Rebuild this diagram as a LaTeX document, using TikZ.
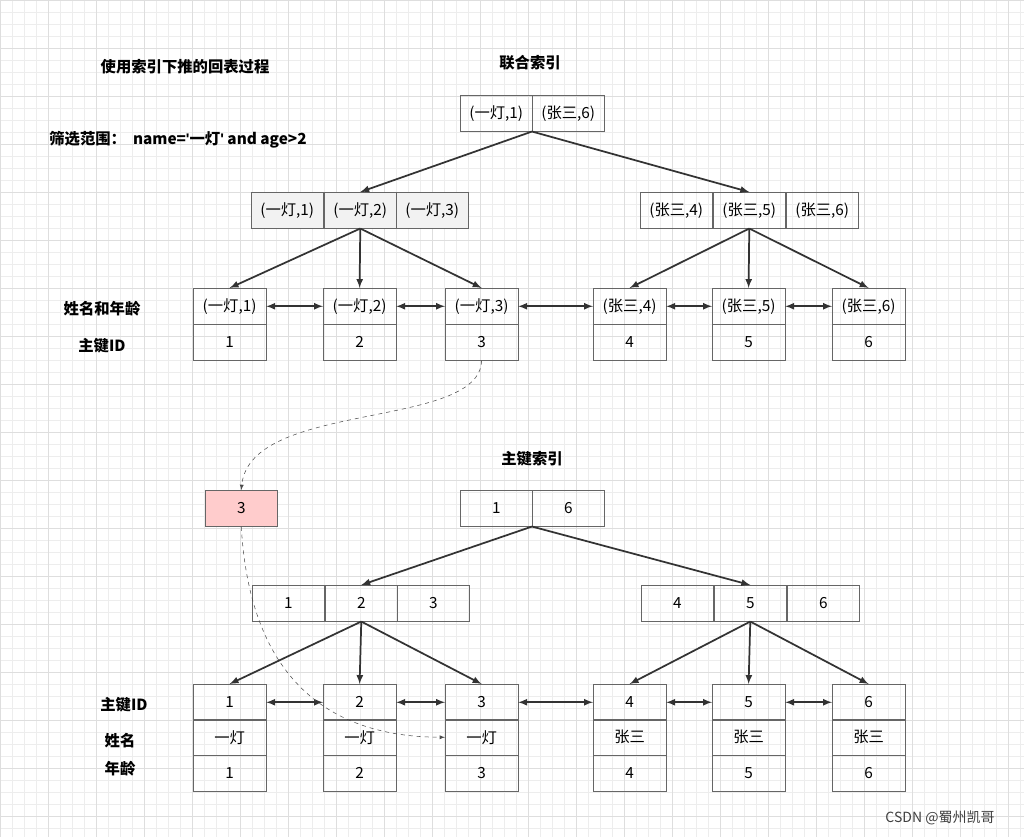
\documentclass[tikz,border=0pt]{standalone}
\usepackage{fontspec}
\setmainfont{Noto Sans CJK SC}
\newfontfamily\qf{Liberation Sans}
\begin{document}
\begin{tikzpicture}[x=0.75pt,y=-0.75pt,
  cell/.style={draw=black!60,minimum height=27pt,inner sep=0pt,font=\fontsize{11.5}{13}\selectfont,anchor=north west},
  lbl/.style={font=\fontsize{11.5}{13}\selectfont\bfseries},
  arr/.style={-latex,line width=1.3pt,black!80},
  darr/.style={latex-latex,line width=1.3pt,black!80},
  dsh/.style={-latex,dashed,black!70}]
\useasboundingbox (0,0) rectangle (1024,837);
\fill[white] (0,0) rectangle (1024,837);
\foreach \i in {0,12,...,1030} \draw[black!7] (\i,0) -- (\i,837);
\foreach \i in {0,12,...,840} \draw[black!7] (0,\i) -- (1024,\i);
\foreach \i in {0,48,...,1030} \draw[black!13] (\i,0) -- (\i,837);
\foreach \i in {0,48,...,840} \draw[black!13] (0,\i) -- (1024,\i);
% top titles
\node[lbl] (title) at (185,67) {使用索引下推的回表过程};
\node[lbl] (filt) at (178,140) {筛选范围：\ \ name={\qf\char39}一灯{\qf\char39} and age>2};
\node[lbl] (t1) at (530,63) {联合索引};
% root
\node[cell,minimum width=54pt] (r1) at (460,95) {(一灯,1)};
\node[cell,minimum width=54pt] (r2) at (532,95) {(张三,6)};
% mid
\foreach \n/\x/\t in {a/251/(一灯{,}1),b/324/(一灯{,}2),c/396/(一灯{,}3)}
  \node[cell,fill=black!5,minimum width=54pt] (m\n) at (\x,192) {\t};
\foreach \n/\x/\t in {d/640/(张三{,}4),e/713/(张三{,}5),f/786/(张三{,}6)}
  \node[cell,minimum width=54pt] (m\n) at (\x,192) {\t};
\draw[arr] (r2.south west) -- (mb.north);
\draw[arr] (r2.south west) -- (me.north);
% leaves
\foreach \n/\x/\t/\k in {1/193/(一灯{,}1)/1,2/323/(一灯{,}2)/2,3/445/(一灯{,}3)/3,4/593/(张三{,}4)/4,5/712/(张三{,}5)/5,6/832/(张三{,}6)/6}{
  \node[cell,minimum width=54.5pt] (l\n) at (\x,288) {\t};
  \node[cell,minimum width=54.5pt] (k\n) at (\x,324) {\k};
}
\foreach \i in {1,2,3} \draw[arr] (mb.south) -- (l\i.north);
\foreach \i in {4,5,6} \draw[arr] (me.south) -- (l\i.north);
\foreach \a/\b in {1/2,2/3,3/4,4/5,5/6} \draw[darr] (l\a.east) -- (l\b.west);
\node[lbl] (nl1) at (102,309) {姓名和年龄};
\node[lbl] (nl2) at (102,346) {主键ID};
% lower
\node[lbl] (t2) at (532,459) {主键索引};
\node[cell,fill=red!20,minimum width=54pt] (pk) at (205,490) {3};
\node[cell,minimum width=54pt] (p1) at (460,490) {1};
\node[cell,minimum width=54pt] (p2) at (532,490) {6};
\foreach \n/\x/\t in {a/252/1,b/325/2,c/397/3,d/641/4,e/714/5,f/787/6}
  \node[cell,minimum width=54pt] (q\n) at (\x,585) {\t};
\draw[arr] (p2.south west) -- (qb.north);
\draw[arr] (p2.south west) -- (qe.north);
\foreach \n/\x/\k/\nm/\ag in {1/193/1/一灯/1,2/323/2/一灯/2,3/445/3/一灯/3,4/593/4/张三/4,5/712/5/张三/5,6/832/6/张三/6}{
  \node[cell,minimum width=54.5pt] (u\n) at (\x,684) {\k};
  \node[cell,minimum width=54.5pt] (v\n) at (\x,719) {\nm};
  \node[cell,minimum width=54.5pt] (w\n) at (\x,755) {\ag};
}
\foreach \i in {1,2,3} \draw[arr] (qb.south) -- (u\i.north);
\foreach \i in {4,5,6} \draw[arr] (qe.south) -- (u\i.north);
\foreach \a/\b in {1/2,2/3,3/4,4/5,5/6} \draw[darr] (u\a.east) -- (u\b.west);
\node[lbl] (ml1) at (124,705) {主键ID};
\node[lbl] (ml2) at (120,741) {姓名};
\node[lbl] (ml3) at (120,769) {年龄};
% dashed
\draw[dsh] (k3.south) .. controls (480,430) and (250,400) .. (pk.north);
\draw[dsh] (pk.south) .. controls (250,680) and (330,737) .. (v3.west);
\node[font=\fontsize{10.5}{12}\selectfont,black!75] (wm) at (940,818) {CSDN @蜀州凯哥};
\end{tikzpicture}
\end{document}
